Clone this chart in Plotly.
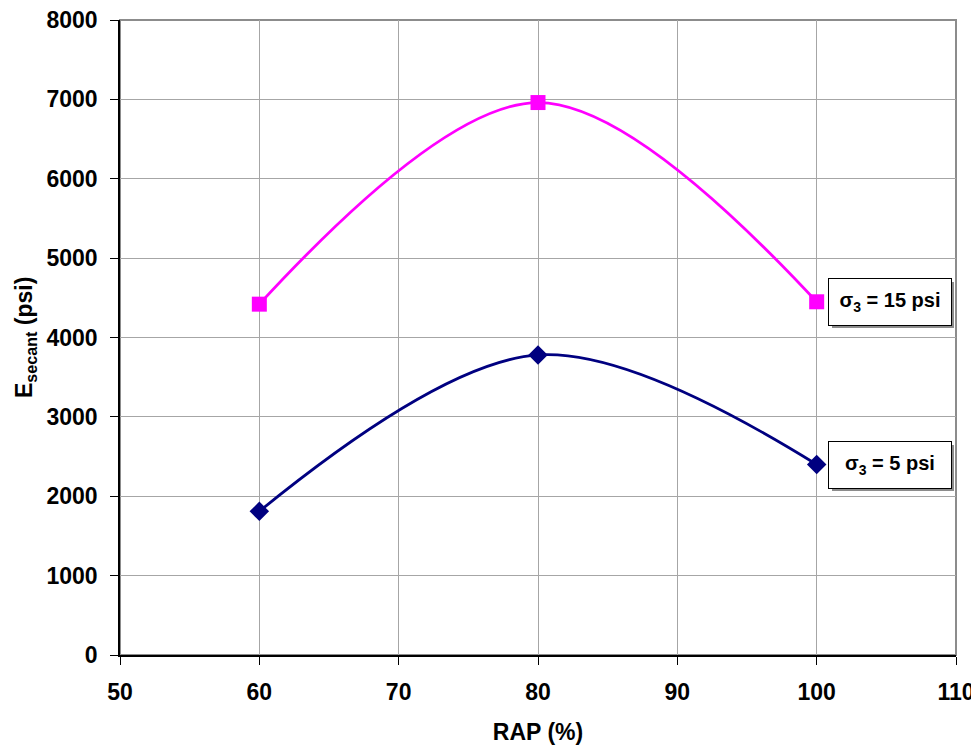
import plotly.graph_objects as go

rap = [60, 80, 100]
e_15psi = [4420, 6960, 4450]
e_5psi = [1810, 3780, 2400]
label_15 = "<b>σ<sub>3</sub> = 15 psi</b>"
label_5 = "<b>σ<sub>3</sub> = 5 psi</b>"
x_ticks = [50, 60, 70, 80, 90, 100, 110]
y_ticks = [0, 1000, 2000, 3000, 4000, 5000, 6000, 7000, 8000]

FONT = "Liberation Sans, Arial, sans-serif"

fig = go.Figure()
fig.add_trace(go.Scatter(
    x=rap, y=e_15psi, mode="lines+markers",
    line=dict(color="#ff00ff", width=2.8, shape="spline", smoothing=1.0),
    marker=dict(symbol="square", size=15, color="#ff00ff"),
    showlegend=False))
fig.add_trace(go.Scatter(
    x=rap, y=e_5psi, mode="lines+markers",
    line=dict(color="#000080", width=2.8, shape="spline", smoothing=1.0),
    marker=dict(symbol="diamond", size=15, color="#000080"),
    showlegend=False))

# plot border (grey top/right)
fig.add_shape(type="rect", xref="paper", yref="paper", x0=0, y0=0, x1=1, y1=1,
              line=dict(color="#8c8c8c", width=2), layer="below")

for txt, yv in [(label_15, e_15psi[-1]), (label_5, e_5psi[-1])]:
    fig.add_annotation(x=rap[-1], y=yv, xref="x", yref="y", text="",
                       xanchor="left", yanchor="middle", xshift=15, yshift=-3,
                       showarrow=False, width=120, height=44,
                       bgcolor="#8c8c8c", borderwidth=0)
    fig.add_annotation(x=rap[-1], y=yv, xref="x", yref="y", text=txt,
                       xanchor="left", yanchor="middle", xshift=11, yshift=0,
                       showarrow=False, width=120, height=44,
                       bgcolor="white", bordercolor="black", borderwidth=1,
                       font=dict(family=FONT, size=20, color="black"))

# y-axis title placed as a rotated annotation for exact position
fig.add_annotation(x=-0.1328, y=0.5, xref="paper", yref="paper",
                   text="<b>E<sub>secant</sub> (psi)</b>", textangle=-90,
                   xanchor="left", yanchor="middle", showarrow=False,
                   font=dict(family=FONT, size=23, color="black"))

# the page body adds an 8px offset, so the figure is sized to fit inside the window
fig.update_layout(
    width=971, height=738,
    margin=dict(l=112, r=23, t=12, b=91),
    plot_bgcolor="white", paper_bgcolor="white",
    font=dict(family=FONT, size=23, color="black"),
    xaxis=dict(range=[50, 110], tickvals=x_ticks, showgrid=True,
               gridcolor="#a6a6a6", gridwidth=1, zeroline=False,
               showline=True, linecolor="black", linewidth=1.5,
               ticks="outside", ticklen=8, tickcolor="black", automargin=False,
               ticklabelstandoff=8, ticklabeloverflow="allow",
               tickfont=dict(family=FONT, size=23, weight="bold"),
               title=dict(text="<b>RAP (%)</b>", font=dict(size=23), standoff=20)),
    yaxis=dict(range=[0, 8000], tickvals=y_ticks, showgrid=True,
               gridcolor="#a6a6a6", gridwidth=1, zeroline=False,
               showline=True, linecolor="black", linewidth=1.5,
               ticks="outside", ticklen=8, tickcolor="black", automargin=False,
               ticklabelstandoff=8, ticklabeloverflow="allow",
               tickfont=dict(family=FONT, size=23, weight="bold")),
)

fig.write_html("out.html")
